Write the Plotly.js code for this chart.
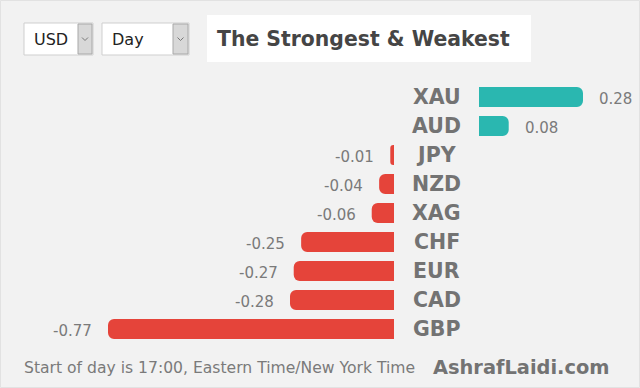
<!DOCTYPE html>
<html>
<head>
<meta charset="utf-8">
<script src="https://cdn.plot.ly/plotly-3.0.1.min.js"></script>
<style>html,body{margin:0;padding:0;background:#f2f2f2;}#chart{width:640px;height:388px;}</style>
</head>
<body>
<div id="chart"></div>
<script>
// ---- data ----
const categories = ["XAU", "AUD", "JPY", "NZD", "XAG", "CHF", "EUR", "CAD", "GBP"];
const changes = [0.28, 0.08, -0.01, -0.04, -0.06, -0.25, -0.27, -0.28, -0.77];
const baseCurrency = "USD";
const period = "Day";
const chartTitle = "The Strongest & Weakest";
const footNote = "Start of day is 17:00, Eastern Time/New York Time";
const brand = "AshrafLaidi.com";

// ---- helpers (pixel -> paper, margins are zero) ----
const W = 640, H = 388;
const px = p => p / W;
const py = p => 1 - p / H;

const posCats = [], posVals = [], negCats = [], negVals = [];
categories.forEach((c, i) => {
  if (changes[i] >= 0) { posCats.push(c); posVals.push(changes[i]); }
  else { negCats.push(c); negVals.push(changes[i]); }
});

const red = "#e5443a", teal = "#2ab7b0";

const traces = [
  { type: "bar", orientation: "h", x: negVals, y: negCats, xaxis: "x", yaxis: "y",
    marker: { color: red, cornerradius: 6 }, width: 0.69, hoverinfo: "none" },
  { type: "bar", orientation: "h", x: posVals, y: posCats, xaxis: "x2", yaxis: "y",
    marker: { color: teal, cornerradius: 6 }, width: 0.69, hoverinfo: "none" }
];

const scale = 371.4; // px per unit
const zeroL = 394, zeroR = 479;
const negMin = -0.85, posMax = 0.4;

const annotations = [];
// category labels
categories.forEach(c => annotations.push({
  xref: "paper", yref: "y", x: px(436.5), y: c, xanchor: "center", yanchor: "middle",
  text: "<b>" + c + "</b>", showarrow: false,
  font: { family: "DejaVu Sans", size: 20.5, color: "#737373" }
}));
// value labels
categories.forEach((c, i) => {
  const v = changes[i];
  annotations.push({
    xref: v >= 0 ? "x2" : "x", yref: "y", x: v, y: c,
    xanchor: v >= 0 ? "left" : "right", yanchor: "middle",
    xshift: v >= 0 ? 14 : -14, yshift: -2,
    text: v.toFixed(2), showarrow: false,
    font: { family: "DejaVu Sans", size: 15, color: "#7a7a7a" }
  });
});
// header texts
annotations.push(
  { xref: "paper", yref: "paper", x: px(32), y: py(40), xanchor: "left", yanchor: "middle",
    text: baseCurrency, showarrow: false, font: { family: "DejaVu Sans", size: 16, color: "#222" } },
  { xref: "paper", yref: "paper", x: px(110), y: py(40), xanchor: "left", yanchor: "middle",
    text: period, showarrow: false, font: { family: "DejaVu Sans", size: 16, color: "#222" } },
  { xref: "paper", yref: "paper", x: px(215), y: py(39), xanchor: "left", yanchor: "middle",
    text: "<b>" + chartTitle + "</b>", showarrow: false,
    font: { family: "DejaVu Sans", size: 20.4, color: "#454545" } },
  { xref: "paper", yref: "paper", x: px(22), y: py(368), xanchor: "left", yanchor: "middle",
    text: footNote, showarrow: false, font: { family: "DejaVu Sans", size: 15.6, color: "#7a7a7a" } },
  { xref: "paper", yref: "paper", x: px(431), y: py(367), xanchor: "left", yanchor: "middle",
    text: "<b>" + brand + "</b>", showarrow: false, font: { family: "DejaVu Sans", size: 19.4, color: "#737373" } }
);

function rect(x0, y0, x1, y1, fill, line) {
  return { type: "rect", xref: "paper", yref: "paper", x0: px(x0), x1: px(x1), y0: py(y1), y1: py(y0),
    fillcolor: fill, line: line ? { color: line, width: 1 } : { width: 0 }, layer: "below" };
}
function chevron(cx, cy) {
  return { type: "path", xref: "paper", yref: "paper",
    path: `M ${px(cx - 3)} ${py(cy - 1.5)} L ${px(cx)} ${py(cy + 1.5)} L ${px(cx + 3)} ${py(cy - 1.5)}`,
    line: { color: "#777", width: 1 }, layer: "above" };
}

const shapes = [
  rect(0.5, 0.5, 639.5, 387.5, "#f2f2f2", "#e2e2e2"),
  rect(207, 15, 531, 62, "#ffffff", null),
  rect(24, 23, 93, 55, "#ffffff", "#cfcfcf"),
  rect(78, 24, 92, 54, "#d8d8d8", "#a8a8a8"),
  rect(102, 23, 189, 55, "#ffffff", "#cfcfcf"),
  rect(173, 24, 188, 54, "#d8d8d8", "#a8a8a8"),
  chevron(85, 39), chevron(180.5, 39)
];

const layout = {
  width: W, height: H,
  margin: { l: 0, r: 0, t: 0, b: 0, pad: 0 },
  paper_bgcolor: "#f2f2f2", plot_bgcolor: "rgba(0,0,0,0)",
  showlegend: false, barmode: "overlay",
  xaxis: { domain: [px(zeroL + negMin * scale), px(zeroL)], range: [negMin, 0],
    visible: false, fixedrange: true },
  xaxis2: { domain: [px(zeroR), px(zeroR + posMax * scale)], range: [0, posMax],
    anchor: "y", visible: false, fixedrange: true },
  yaxis: { domain: [py(343.5), py(82.5)], type: "category", categoryorder: "array",
    categoryarray: categories, range: [8.5, -0.5], visible: false, fixedrange: true },
  shapes: shapes,
  annotations: annotations
};

Plotly.newPlot("chart", traces, layout, { staticPlot: true, displayModeBar: false });
</script>
</body>
</html>
